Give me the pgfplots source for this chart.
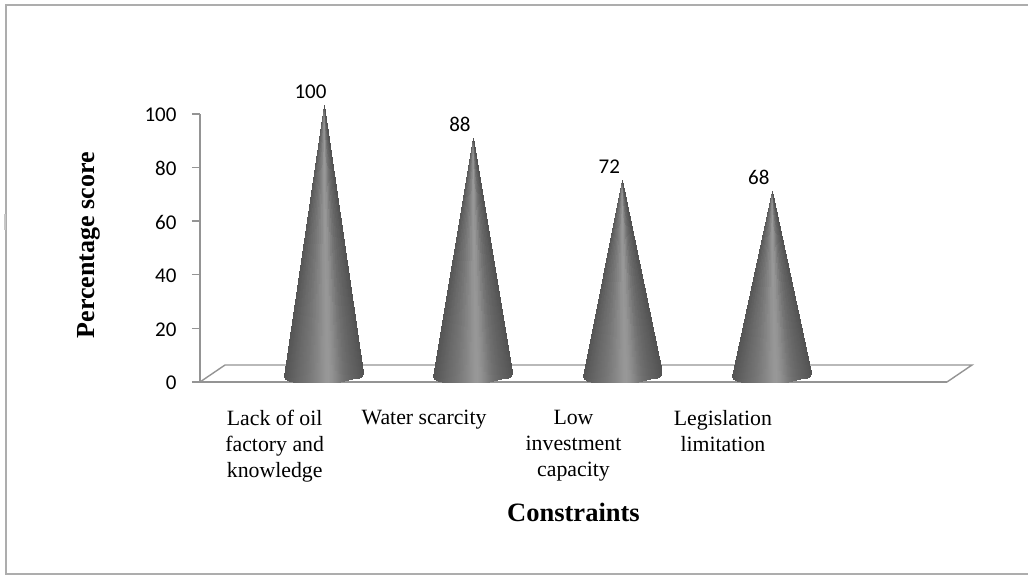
\documentclass[border=0pt]{standalone}
\usepackage{fontspec}
\usepackage{pgfplots}
\usepackage{pgfplotstable}
\pgfplotsset{compat=1.18}
\setmainfont{Liberation Serif}
\newfontfamily\calibrilike{Carlito}

\definecolor{framegray}{gray}{0.68}
\definecolor{axisgray}{gray}{0.58}

% Cone surface: top row is the tip (a=1), bottom row the front rim of the base.
% dx and py are the rim position in points; c is the grey level of that strip.
\pgfplotstableread{
dx py a c
-39.5 376 1 84
-38.5 379 1 86
-35 380.5 1 92
-31 381.5 1 98
-27 382 1 104
-23 382 1 109
-19 382 1 114
-15 382 1 120
-11 382 1 127
-7 382 1 134
-3 382 1 142
1 382 1 150
4 382 1 152
8 382 1 145
12 382 1 134
16 381.5 1 122
20 380.5 1 112
24 379.5 1 105
28 378.5 1 99
32 378 1 94
35 377.5 1 90
38 376 1 85
39.5 372 1 82
-39.5 376 0 84
-38.5 379 0 86
-35 380.5 0 92
-31 381.5 0 98
-27 382 0 104
-23 382 0 109
-19 382 0 114
-15 382 0 120
-11 382 0 127
-7 382 0 134
-3 382 0 142
1 382 0 150
4 382 0 152
8 382 0 145
12 382 0 134
16 381.5 0 122
20 380.5 0 112
24 379.5 0 105
28 378.5 0 99
32 378 0 94
35 377.5 0 90
38 376 0 85
39.5 372 0 82
}\coneprofile

\pgfplotstableread{
x score
0.827 100
1.827 88
2.827 72
3.827 68
}\scores

% #1 = position along the floor, #2 = percentage score
\newcommand{\cone}[2]{%
  \addplot[surf, shader=interp, mesh/rows=2, mesh/ordering=x varies, point meta=explicit]
    table[x expr={#1+(1-\thisrow{a})*\thisrow{dx}/149.4},
          y expr={\thisrow{a}*(#2+3.2)+(1-\thisrow{a})*(382-\thisrow{py})/2.68},
          meta=c] {\coneprofile};
}

\begin{document}
\begin{tikzpicture}[x=1pt,y=1pt]
\useasboundingbox (0,0) rectangle (1028,576);
% outer chart border, open on the right
\draw[framegray, line width=1.5pt] (1028,571) -- (6,571) -- (6,2) -- (1028,2);
\draw[framegray!70, line width=2pt] (5,346) -- (5,362);
\begin{axis}[
  at={(200pt,194pt)}, anchor=south west,
  scale only axis, width=747pt, height=268pt,
  xmin=0, xmax=5, ymin=0, ymax=100,
  clip=false,
  axis x line=bottom, axis y line=left,
  axis line style={-, axisgray, line width=1.6pt},
  ytick={0,20,40,60,80,100},
  xtick={0.5,1.5,2.5,3.5},
  xticklabels={Lack of oil\\factory and\\knowledge, Water scarcity, Low\\investment\\capacity, Legislation\\limitation},
  tick align=outside, major tick length=8pt,
  ytick style={axisgray, line width=1.4pt},
  xtick style={draw=none},
  xticklabel style={align=center, font=\fontsize{21.8}{26}\selectfont, anchor=north, yshift=-17pt},
  yticklabel style={font=\calibrilike\fontsize{21}{24}\selectfont,
    /pgf/number format/assume math mode=true, xshift=-12pt, yshift=-1pt},
  xlabel={\textbf{Constraints}},
  ylabel={\textbf{Percentage score}},
  x label style={at={(axis description cs:0.5,-0.485)}, anchor=center, font=\fontsize{26.5}{30}\selectfont},
  y label style={at={(axis description cs:-0.149,0.511)}, anchor=center, rotate=0, font=\fontsize{26}{30}\selectfont},
  colormap={greys}{gray(0cm)=(0); gray(255cm)=(1)},
  point meta min=0, point meta max=255,
]
% floor of the chart
\addplot[axisgray, line width=1.4pt, no marks] coordinates {(0,0) (0.1673,6.34) (5.1673,6.34) (5,0)};
\cone{0.827}{100}
\cone{1.827}{88}
\cone{2.827}{72}
\cone{3.827}{68}
% value labels above the tips
\addplot[draw=none, no marks, point meta=y,
  nodes near coords,
  nodes near coords style={font=\calibrilike\fontsize{21}{24}\selectfont,
    /pgf/number format/assume math mode=true, anchor=center, xshift=-13pt, yshift=22pt, text=black}]
  table[x=x, y=score] {\scores};
\end{axis}
\end{tikzpicture}
\end{document}
